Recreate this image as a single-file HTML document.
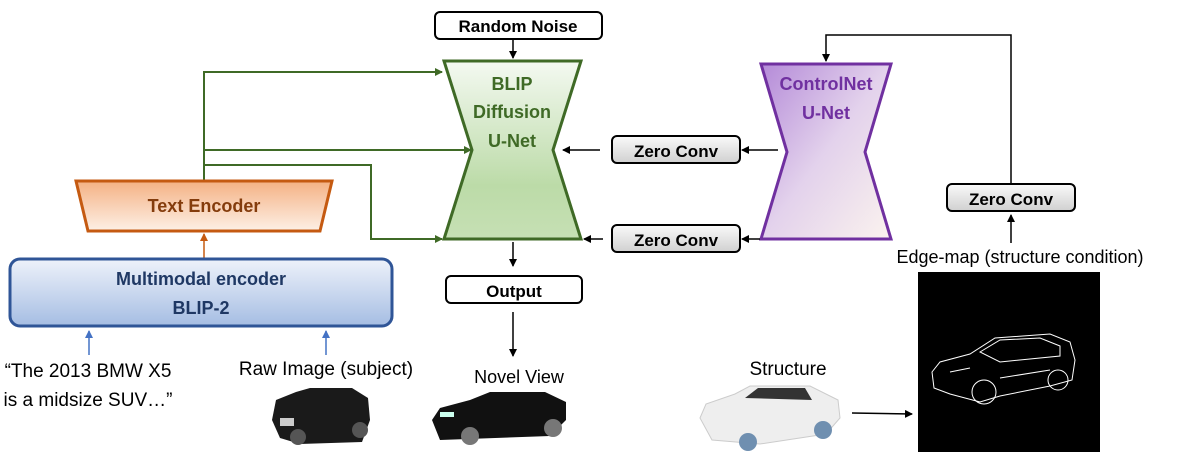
<!DOCTYPE html>
<html><head><meta charset="utf-8"><style>
body{margin:0;background:#fff;width:1180px;height:468px;overflow:hidden}
svg{display:block}
text{font-family:"Liberation Sans",sans-serif}
.b{font-weight:bold}
</style></head><body>
<svg width="1180" height="468" viewBox="0 0 1180 468" xmlns="http://www.w3.org/2000/svg">
<defs>
<linearGradient id="gG" x1="0" y1="0" x2="0" y2="1"><stop offset="0" stop-color="#f4f9f1"/><stop offset="0.7" stop-color="#bcdba8"/><stop offset="1" stop-color="#c6e0b4"/></linearGradient>
<linearGradient id="gP" x1="0" y1="0" x2="1" y2="1"><stop offset="0" stop-color="#b48ad8"/><stop offset="0.5" stop-color="#e3d2ec"/><stop offset="1" stop-color="#fbf3ee"/></linearGradient>
<linearGradient id="gO" x1="0" y1="0" x2="0" y2="1"><stop offset="0" stop-color="#f4b183"/><stop offset="1" stop-color="#fdf0e6"/></linearGradient>
<linearGradient id="gB" x1="0" y1="0" x2="0" y2="1"><stop offset="0" stop-color="#eef2fa"/><stop offset="1" stop-color="#a5bde3"/></linearGradient>
<linearGradient id="gZ" x1="0" y1="0" x2="0" y2="1"><stop offset="0" stop-color="#fafafa"/><stop offset="1" stop-color="#d0d0d0"/></linearGradient>
<marker id="ak" markerWidth="8" markerHeight="8" refX="7" refY="4" orient="auto" markerUnits="userSpaceOnUse"><path d="M0,0 L8,4 L0,8 z" fill="#000"/></marker>
<marker id="ag" markerWidth="8" markerHeight="8" refX="7" refY="4" orient="auto" markerUnits="userSpaceOnUse"><path d="M0,0 L8,4 L0,8 z" fill="#3f6a26"/></marker>
<marker id="ao" markerWidth="8" markerHeight="8" refX="7" refY="4" orient="auto" markerUnits="userSpaceOnUse"><path d="M0,0 L8,4 L0,8 z" fill="#c55a11"/></marker>
<marker id="ab" markerWidth="8" markerHeight="8" refX="7" refY="4" orient="auto" markerUnits="userSpaceOnUse"><path d="M0,0 L8,4 L0,8 z" fill="#4472c4"/></marker>
</defs>

<!-- Random noise -->
<rect x="435" y="12" width="167" height="27" rx="5" fill="#fff" stroke="#000" stroke-width="2"/>
<text x="518" y="32" text-anchor="middle" font-size="17" class="b">Random Noise</text>
<line x1="513" y1="40" x2="513" y2="58" stroke="#000" stroke-width="1.5" marker-end="url(#ak)"/>

<!-- BLIP hourglass -->
<polygon points="444,61 581,61 553,150 581,239 444,239 472,150" fill="url(#gG)" stroke="#3f6a26" stroke-width="3"/>
<text x="512" y="90" text-anchor="middle" font-size="18" class="b" fill="#3f6a26">BLIP</text>
<text x="512" y="118" text-anchor="middle" font-size="18" class="b" fill="#3f6a26">Diffusion</text>
<text x="512" y="147" text-anchor="middle" font-size="18" class="b" fill="#3f6a26">U-Net</text>

<!-- ControlNet hourglass -->
<polygon points="761,64 891,64 865,152 891,239 761,239 787,152" fill="url(#gP)" stroke="#7030a0" stroke-width="3"/>
<text x="826" y="90" text-anchor="middle" font-size="18" class="b" fill="#7030a0">ControlNet</text>
<text x="826" y="119" text-anchor="middle" font-size="18" class="b" fill="#7030a0">U-Net</text>

<!-- Zero convs -->
<rect x="612" y="136" width="128" height="27" rx="5" fill="url(#gZ)" stroke="#000" stroke-width="2"/>
<text x="676" y="157" text-anchor="middle" font-size="17" class="b">Zero Conv</text>
<rect x="612" y="225" width="128" height="27" rx="5" fill="url(#gZ)" stroke="#000" stroke-width="2"/>
<text x="676" y="246" text-anchor="middle" font-size="17" class="b">Zero Conv</text>
<rect x="947" y="184" width="128" height="27" rx="5" fill="url(#gZ)" stroke="#000" stroke-width="2"/>
<text x="1011" y="205" text-anchor="middle" font-size="17" class="b">Zero Conv</text>

<line x1="778" y1="150" x2="742" y2="150" stroke="#000" stroke-width="1.5" marker-end="url(#ak)"/>
<line x1="600" y1="150" x2="563" y2="150" stroke="#000" stroke-width="1.5" marker-end="url(#ak)"/>
<line x1="760" y1="239" x2="742" y2="239" stroke="#000" stroke-width="1.5" marker-end="url(#ak)"/>
<line x1="603" y1="239" x2="584" y2="239" stroke="#000" stroke-width="1.5" marker-end="url(#ak)"/>

<!-- feedback -->
<polyline points="1011,184 1011,35 826,35 826,61" fill="none" stroke="#000" stroke-width="1.5" marker-end="url(#ak)"/>
<line x1="1011" y1="243" x2="1011" y2="215" stroke="#000" stroke-width="1.5" marker-end="url(#ak)"/>
<text x="1020" y="263" text-anchor="middle" font-size="18">Edge-map (structure condition)</text>

<!-- Output -->
<line x1="513" y1="242" x2="513" y2="266" stroke="#000" stroke-width="1.5" marker-end="url(#ak)"/>
<rect x="446" y="276" width="136" height="27" rx="5" fill="#fff" stroke="#000" stroke-width="2"/>
<text x="514" y="297" text-anchor="middle" font-size="17" class="b">Output</text>
<line x1="513" y1="312" x2="513" y2="356" stroke="#000" stroke-width="1.5" marker-end="url(#ak)"/>
<text x="519" y="383" text-anchor="middle" font-size="18">Novel View</text>

<!-- Green connectors -->
<polyline points="204,181 204,72 442,72" fill="none" stroke="#3f6a26" stroke-width="2" marker-end="url(#ag)"/>
<line x1="204" y1="150" x2="471" y2="150" stroke="#3f6a26" stroke-width="2" marker-end="url(#ag)"/>
<polyline points="204,165 371,165 371,239 442,239" fill="none" stroke="#3f6a26" stroke-width="2" marker-end="url(#ag)"/>

<!-- Text encoder -->
<polygon points="76,181 332,181 320,231 88,231" fill="url(#gO)" stroke="#c55a11" stroke-width="3"/>
<text x="204" y="212" text-anchor="middle" font-size="18" class="b" fill="#843c0c">Text Encoder</text>
<line x1="204" y1="258" x2="204" y2="234" stroke="#c55a11" stroke-width="1.5" marker-end="url(#ao)"/>

<!-- Multimodal -->
<rect x="10" y="259" width="382" height="67" rx="10" fill="url(#gB)" stroke="#2f5597" stroke-width="3"/>
<text x="201" y="285" text-anchor="middle" font-size="18" class="b" fill="#1f3864">Multimodal encoder</text>
<text x="201" y="314" text-anchor="middle" font-size="18" class="b" fill="#1f3864">BLIP-2</text>
<line x1="89" y1="355" x2="89" y2="331" stroke="#4472c4" stroke-width="1.5" marker-end="url(#ab)"/>
<line x1="326" y1="355" x2="326" y2="331" stroke="#4472c4" stroke-width="1.5" marker-end="url(#ab)"/>

<text x="88" y="377" text-anchor="middle" font-size="19">“The 2013 BMW X5</text>
<text x="88" y="406" text-anchor="middle" font-size="19">is a midsize SUV…”</text>
<text x="326" y="375" text-anchor="middle" font-size="19">Raw Image (subject)</text>
<text x="788" y="375" text-anchor="middle" font-size="19">Structure</text>

<!-- Raw car (black) -->
<g>
<path d="M272,420 L276,400 L296,392 L310,388 L352,388 L368,398 L370,420 L362,442 L300,444 L280,438 z" fill="#1a1a1a"/>
<circle cx="298" cy="437" r="8" fill="#555"/><circle cx="360" cy="430" r="8" fill="#555"/>
<rect x="280" y="418" width="14" height="8" fill="#ccc"/>
</g>
<!-- Novel car -->
<g>
<path d="M432,420 L440,408 L470,400 L490,392 L545,392 L566,402 L566,420 L550,436 L440,440 z" fill="#111"/>
<circle cx="470" cy="436" r="9" fill="#777"/><circle cx="553" cy="428" r="9" fill="#777"/>
<rect x="440" y="412" width="14" height="5" fill="#cfe"/>
</g>
<!-- Structure car (white) -->
<g>
<path d="M700,418 L706,404 L735,394 L750,386 L810,386 L838,400 L840,418 L826,434 L760,444 L712,440 z" fill="#eee" stroke="#ccc"/>
<path d="M745,398 L758,388 L805,388 L812,400 z" fill="#333"/>
<circle cx="748" cy="442" r="9" fill="#6f8fb0"/><circle cx="823" cy="430" r="9" fill="#6f8fb0"/>
</g>
<line x1="852" y1="413" x2="912" y2="414" stroke="#000" stroke-width="1.5" marker-end="url(#ak)"/>

<!-- Edge map -->
<rect x="918" y="272" width="182" height="180" fill="#000"/>
<g fill="none" stroke="#fff" stroke-width="1">
<path d="M932,372 L940,362 L970,354 L995,338 L1050,334 L1070,342 L1075,360 L1072,380 L1050,386 L1000,396 L980,402 L950,394 L934,388 z"/>
<path d="M980,352 L1000,340 L1040,338 L1060,346 L1060,356 L1000,362 z"/>
<circle cx="984" cy="392" r="12"/><circle cx="1058" cy="380" r="10"/>
<path d="M950,372 L970,368 M1000,378 L1050,370"/>
</g>
</svg>
</body></html>
